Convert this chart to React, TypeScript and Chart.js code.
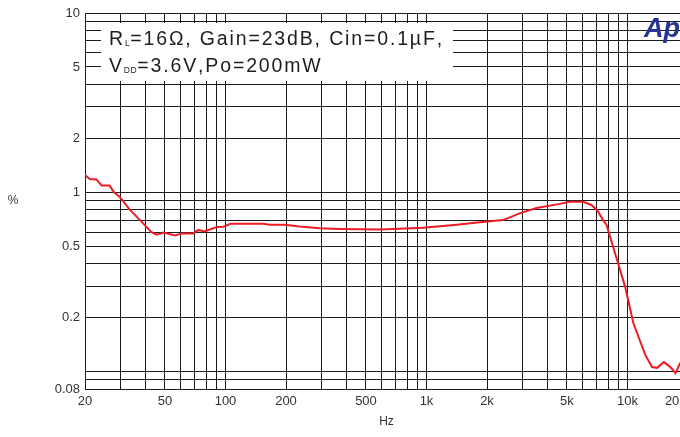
import React, { useEffect, useRef } from "react";
import { Chart, registerables } from "chart.js";

Chart.register(...registerables);

// Frequency (Hz) and THD+N (%)
const FREQ = [20, 21.1, 22.8, 24.2, 26.5, 27.9, 29.7, 33.4, 37.6, 40.5, 42.8, 45.4, 49.2, 56.2, 60.6, 69, 73.3, 78.6, 90.5, 97.5, 105.7, 154, 166, 197.6, 234, 294, 372, 590, 965, 1413, 1842, 2405, 2927, 3525, 4613, 5168, 6013, 6613, 7100, 7560, 7860, 8990, 9730, 10700, 12260, 13240, 14050, 15170, 16360, 17330, 18250, 20000];
const THD = [1.25, 1.185, 1.18, 1.09, 1.09, 1.0, 0.945, 0.8, 0.7, 0.64, 0.6, 0.58, 0.596, 0.575, 0.59, 0.59, 0.617, 0.605, 0.64, 0.643, 0.667, 0.667, 0.66, 0.66, 0.645, 0.63, 0.625, 0.62, 0.635, 0.66, 0.68, 0.7, 0.765, 0.818, 0.862, 0.886, 0.886, 0.85, 0.79, 0.7, 0.66, 0.4, 0.298, 0.186, 0.124, 0.106, 0.105, 0.113, 0.106, 0.098, 0.111, 0.13];

const X_GRID = [20, 30, 40, 50, 60, 70, 80, 90, 100, 200, 300, 400, 500, 600, 700, 800, 900, 1000, 2000, 3000, 4000, 5000, 6000, 7000, 8000, 9000, 10000, 20000];
const X_LABEL_VALUES = [20, 50, 100, 200, 500, 1000, 2000, 5000, 10000, 20000];
const X_LABEL_TEXT = ["20", "50", "100", "200", "500", "1k", "2k", "5k", "10k", "20k       "];

const Y_GRID = [0.08, 0.09, 0.1, 0.2, 0.3, 0.4, 0.5, 0.6, 0.7, 0.8, 0.9, 1, 2, 3, 4, 5, 6, 7, 8, 9, 10];
const Y_LABEL_VALUES = [0.08, 0.2, 0.5, 1, 2, 5, 10];
const Y_LABEL_TEXT = ["0.08", "0.2", "0.5", "1", "2", "5", "10"];

const X_TITLE = "Hz";
const Y_TITLE = "%";
const LINE1 = [
  { t: "R", sub: false },
  { t: "L", sub: true },
  { t: "=16Ω, Gain=23dB, Cin=0.1µF,", sub: false },
];
const LINE2 = [
  { t: "V", sub: false },
  { t: "DD", sub: true },
  { t: "=3.6V,Po=200mW", sub: false },
];
const LOGO = "Ap";

const FONT = "'Liberation Sans', Arial, Helvetica, sans-serif";

const overlay = {
  id: "overlay",
  afterDraw(chart: any) {
    const ctx = chart.ctx as CanvasRenderingContext2D;
    const area = chart.chartArea;
    ctx.save();
    // white legend box
    ctx.fillStyle = "#ffffff";
    ctx.fillRect(101, 23, 352, 58);

    const drawLine = (segs: { t: string; sub: boolean }[], x0: number, base: number) => {
      let x = x0;
      for (const s of segs) {
        const size = s.sub ? 8.5 : 19.5;
        const spacing = s.sub ? 0.6 : 1.85;
        ctx.font = `${size}px ${FONT}`;
        ctx.fillStyle = "#1e1e1e";
        ctx.textBaseline = "alphabetic";
        ctx.textAlign = "left";
        const y = s.sub ? base + 1 : base;
        for (const ch of s.t) {
          ctx.fillText(ch, x, y);
          x += ctx.measureText(ch).width + spacing;
        }
      }
    };
    drawLine(LINE1, 109, 45);
    drawLine(LINE2, 109, 72);

    // logo
    ctx.font = `italic bold 27px ${FONT}`;
    ctx.fillStyle = "#28358f";
    ctx.textAlign = "left";
    ctx.textBaseline = "alphabetic";
    ctx.fillText(LOGO, 644, 37);

    // axis titles
    ctx.font = `12px ${FONT}`;
    ctx.fillStyle = "#333";
    ctx.textAlign = "center";
    ctx.textBaseline = "middle";
    ctx.fillText(Y_TITLE, area.left - 72, 201);
    ctx.fillText(X_TITLE, (area.left + area.right) / 2, 422);
    ctx.restore();
  },
};

export default function App() {
  const ref = useRef<HTMLCanvasElement | null>(null);
  useEffect(() => {
    if (!ref.current) return;
    const gridColor = "#1c1c1c";
    const chart = new Chart(ref.current, {
      type: "line",
      data: {
        datasets: [
          {
            data: FREQ.map((f, i) => ({ x: f, y: THD[i] })),
            borderColor: "#ec1c24",
            borderWidth: 2,
            pointRadius: 0,
            tension: 0,
            fill: false,
          },
        ],
      },
      options: {
        animation: false,
        responsive: false,
        devicePixelRatio: 1,
        layout: { padding: { top: 13, right: 32, left: 0, bottom: 0 } },
        plugins: { legend: { display: false }, tooltip: { enabled: false }, title: { display: false } },
        scales: {
          x: {
            type: "logarithmic",
            min: 20,
            max: 20000,
            afterBuildTicks: (s: any) => {
              s.ticks = X_GRID.map((v) => ({ value: v }));
            },
            afterFit: (s: any) => {
              s.height = 48;
            },
            ticks: {
              autoSkip: false,
              maxRotation: 0,
              minRotation: 0,
              padding: 5,
              color: "#333",
              font: { size: 13, family: FONT },
              callback: (v: any) => {
                const i = X_LABEL_VALUES.indexOf(Number(v));
                return i >= 0 ? X_LABEL_TEXT[i] : "";
              },
            },
            grid: { color: gridColor, lineWidth: 1, drawTicks: false },
            border: { color: gridColor, width: 1 },
          },
          y: {
            type: "logarithmic",
            min: 0.08,
            max: 10,
            afterBuildTicks: (s: any) => {
              s.ticks = Y_GRID.map((v) => ({ value: v }));
            },
            afterFit: (s: any) => {
              s.width = 85;
            },
            ticks: {
              autoSkip: false,
              padding: 5,
              color: "#333",
              font: { size: 13, family: FONT },
              callback: (v: any) => {
                const i = Y_LABEL_VALUES.indexOf(Number(v));
                return i >= 0 ? Y_LABEL_TEXT[i] : "";
              },
            },
            grid: { color: gridColor, lineWidth: 1, drawTicks: false },
            border: { color: gridColor, width: 1 },
          },
        },
      },
      plugins: [overlay],
    });
    return () => chart.destroy();
  }, []);
  return (
    <div style={{ position: "fixed", left: 0, top: 0, width: 680, height: 437, overflow: "hidden", background: "#fff" }}>
      <canvas ref={ref} width={720} height={437} style={{ display: "block", width: 720, height: 437 }} />
    </div>
  );
}
